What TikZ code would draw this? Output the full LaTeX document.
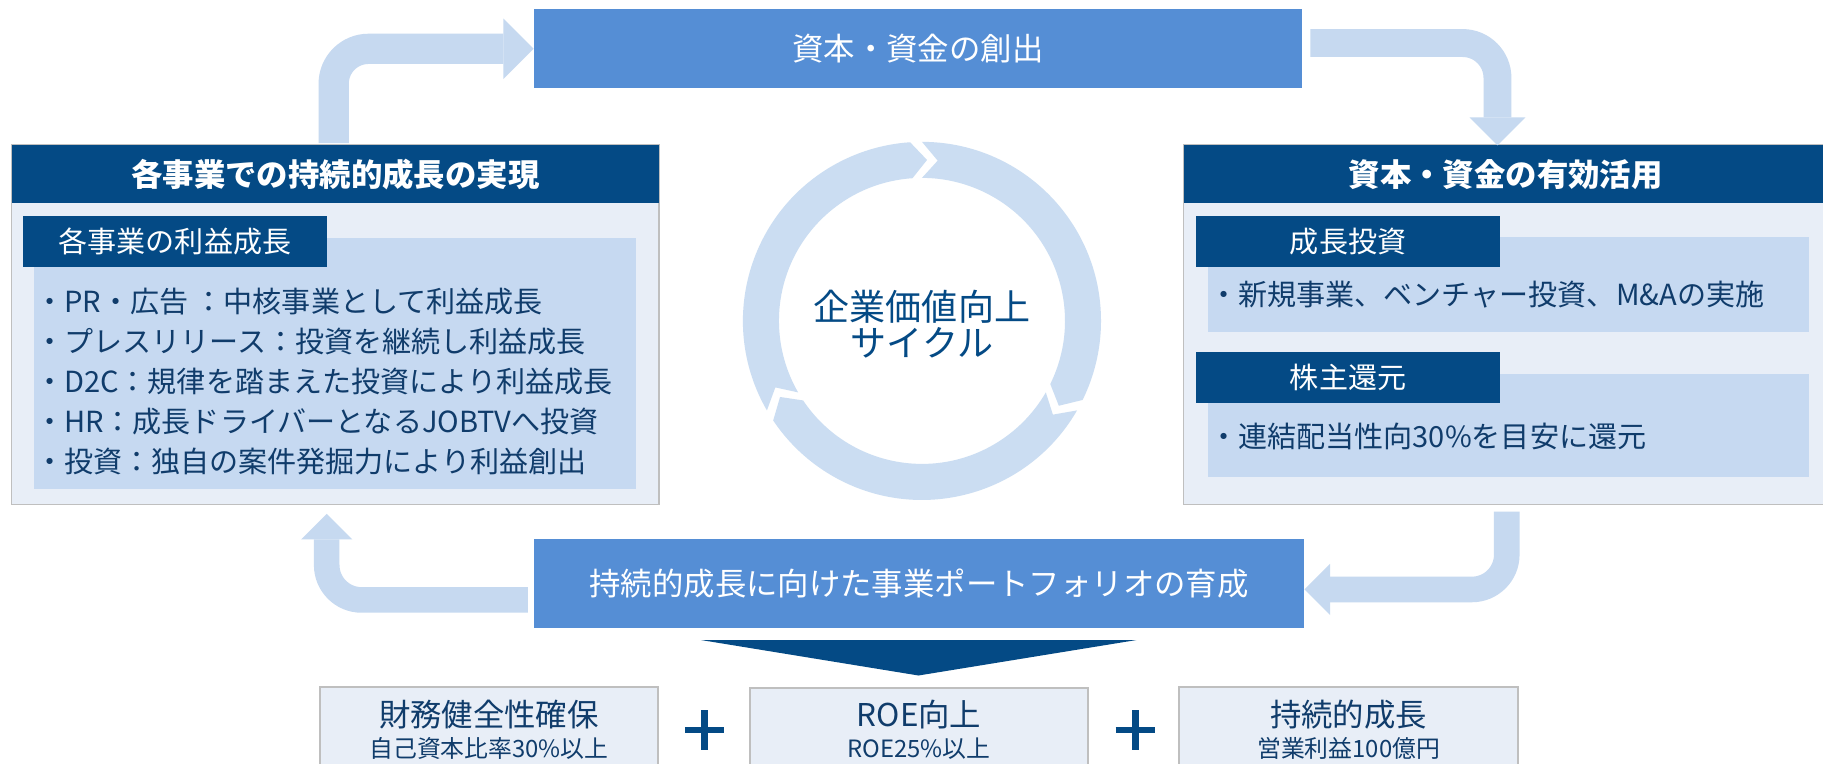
\documentclass[tikz,border=0pt]{standalone}
\usepackage{fontspec}
\setmainfont{Noto Sans CJK JP}
\usetikzlibrary{arrows.meta,calc}

\definecolor{boxblue}{HTML}{558ED5}
\definecolor{navy}{HTML}{044A85}
\definecolor{inknavy}{HTML}{103C6B}
\definecolor{panelbg}{HTML}{E8EEF7}
\definecolor{bodybg}{HTML}{C6D9F1}
\definecolor{flowblue}{HTML}{C6D9F0}
\definecolor{ringblue}{HTML}{CBDDF2}
\definecolor{rulegray}{HTML}{BFBFBF}

\newcommand{\fsz}[1]{\fontsize{#1}{#1}\selectfont}

\tikzset{
  titlebar/.style={fill=boxblue, text=white, font=\fsz{27}, inner sep=0, outer sep=0},
  panel/.style={fill=panelbg, draw=rulegray, line width=1.5, inner sep=0, outer sep=0},
  headbar/.style={fill=navy, text=white, font=\bfseries\fsz{27}, inner sep=0, outer sep=0},
  subbar/.style={fill=navy, text=white, font=\fsz{25}, inner sep=0, outer sep=0},
  bodybox/.style={fill=bodybg, inner sep=0, outer sep=0},
  itemline/.style={anchor=west, text=inknavy, font=\fsz{25}, inner sep=0},
  kpibox/.style={fill=panelbg, draw=rulegray, line width=1.8, anchor=north,
    inner sep=0, outer sep=0, minimum width=291, minimum height=110},
  kpititle/.style={text=inknavy, font=\fsz{27}, inner sep=0},
  kpisub/.style={text=inknavy, font=\fsz{20.5}, inner sep=0},
  flow/.style={draw=flowblue, line width=#1, rounded corners=30,
    -{Triangle[width=0pt 2, length=0pt 1, line width=0pt]}},
  flow/.default=26,
  plusline/.style={draw=navy, line width=5.5}
}

\begin{document}
\begin{tikzpicture}[x=1pt, y=-1pt]
  \useasboundingbox (0,0) rectangle (1568,657);
  \clip (0,0) rectangle (1568,657);
  \fill[white] (0,0) rectangle (1568,657);

  % Value cycle ring
  \begin{scope}[shift={(793,276)}, yscale=-1]
    \foreach \s/\e in {210/93.8, 90/-26.2, -30/-146.2}
      \fill[ringblue] (\s:154) arc[start angle=\s, end angle=\e, radius=154]
        -- ({\e-5.6}:138.5) -- (\e:123) arc[start angle=\e, end angle=\s, radius=123]
        -- ({\s-5.6}:138.5) -- cycle;
  \end{scope}
  \node[text=navy, font=\fsz{31}, align=center, inner sep=0] (cycle) at (793,279)
    {企業価値向上\\サイクル};

  % Top and bottom bars
  \node[titlebar, minimum width=661, minimum height=68] (capital) at (789.5,42)
    {資本・資金の創出};
  \node[titlebar, minimum width=663, minimum height=76] (portfolio) at (790.5,502)
    {持続的成長に向けた事業ポートフォリオの育成};

  % Left panel
  \node[panel, minimum width=557, minimum height=309] (lpanel) at (288.5,279.5) {};
  \node[headbar, minimum width=557, minimum height=50, anchor=north] (lhead)
    at (lpanel.north) {各事業での持続的成長の実現};
  \node[bodybox, minimum width=518, minimum height=216] (lbody) at (288,312.8) {};
  \node[subbar, minimum width=261, minimum height=44] (lsub) at (150.5,207.8)
    {各事業の利益成長};
  \node[itemline] (lA) at (30,259.5) {・PR・広告 ：中核事業として利益成長};
  \node[itemline] (lB) at (30,294) {・プレスリリース：投資を継続し利益成長};
  \node[itemline] (lC) at (30,328.4) {・D2C：規律を踏まえた投資により利益成長};
  \node[itemline] (lD) at (30,363) {・HR：成長ドライバーとなるJOBTVへ投資};
  \node[itemline] (lE) at (30,397) {・投資：独自の案件発掘力により利益創出};

  % Right panel
  \node[panel, minimum width=554, minimum height=309] (rpanel) at (1295,279.5) {};
  \node[headbar, minimum width=554, minimum height=50, anchor=north] (rhead)
    at (rpanel.north) {資本・資金の有効活用};
  \node[bodybox, minimum width=517, minimum height=81.5] (rbodyA) at (1297.5,244.75) {};
  \node[subbar, minimum width=261, minimum height=44] (rsubA) at (1159.5,207.8) {成長投資};
  \node[itemline] (rA) at (1040,253.7) {・新規事業、ベンチャー投資、M\&Aの実施};
  \node[bodybox, minimum width=517, minimum height=88.3] (rbodyB) at (1297.5,365.85) {};
  \node[subbar, minimum width=261, minimum height=43.5] (rsubB) at (1159.5,324.75) {株主還元};
  \node[itemline] (rB) at (1040,375) {・連結配当性向30\%を目安に還元};

  % Flow arrows round the cycle
  \draw[flow] ($(lpanel.north)+(-1.5,-2)$) |- (capital.west);
  \draw[flow=24] ($(capital.east)+(7,-5)$) -| ($(rpanel.north)+(-7,0)$);
  \draw[flow=22] ($(rpanel.south)+(1,6)$) |- ($(portfolio.east)+(0,5)$);
  \draw[flow=22] ($(portfolio.west)+(-5,14)$) -| ($(lpanel.south)+(-7.5,8)$);

  % Down wedge
  \fill[navy] (603,550.5) -- (977.5,550.5) -- (790,581) -- cycle;

  % Targets
  \node[kpibox] (kpiA) at (420.5,591) {};
  \node[kpibox] (kpiB) at (790.5,592) {};
  \node[kpibox, minimum width=292] (kpiC) at (1160,591) {};
  \node[kpititle] (kpiAt) at (420.5,615) {財務健全性確保};
  \node[kpisub] (kpiAs) at (420.5,644) {自己資本比率30\%以上};
  \node[kpititle] (kpiBt) at (790.5,615) {ROE向上};
  \node[kpisub] (kpiBs) at (790.5,644) {ROE25\%以上};
  \node[kpititle] (kpiCt) at (1160,615) {持続的成長};
  \node[kpisub] (kpiCs) at (1160,644) {営業利益100億円};

  \draw[plusline] (606,611) -- (606,645) (589,628) -- (623,628);
  \draw[plusline] (976.5,611) -- (976.5,645) (959.5,628) -- (993.5,628);
\end{tikzpicture}
\end{document}
